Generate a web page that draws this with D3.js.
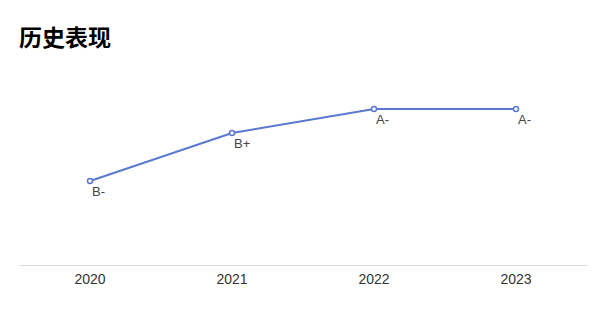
<!DOCTYPE html>
<meta charset="utf-8">
<script src="https://d3js.org/d3.v7.min.js"></script>
<style>
  body { margin: 0; background: #fff; }
</style>
<div id="chart"></div>
<script>
    // data
    var years = ["2020", "2021", "2022", "2023"];
    var grades = ["B-", "B+", "A-", "A-"];
    // grade ladder: C-=2 ... B-=5, B=6, B+=7, A-=8
    var scores = [5, 7, 8, 8];

    var W = 604, H = 316;
    var margin = {top: 61, right: 17, bottom: 51, left: 19};
    var width = W - margin.left - margin.right,
        height = H - margin.top - margin.bottom;

    var svg = d3.select("#chart")
      .append("svg")
        .attr("width", W)
        .attr("height", H)
        .style("font-family", "Arial, 'Liberation Sans', sans-serif");

    // title
    svg.append("text")
        .attr("x", 19)
        .attr("y", 46)
        .style("font-family", "'Noto Sans CJK SC', sans-serif")
        .style("font-size", "23px")
        .style("font-weight", "bold")
        .attr("fill", "#000")
        .text("历史表现");

    var g = svg.append("g")
        .attr("transform", "translate(" + margin.left + "," + margin.top + ")");

    var x = d3.scaleBand()
        .domain(years)
        .range([0, width]);

    var y = d3.scaleLinear()
        .domain([1.5, 10])
        .range([height, 0]);

    // x axis
    var xAxis = g.append("g")
        .attr("transform", "translate(0," + height + ")")
        .call(d3.axisBottom(x).tickSize(0).tickPadding(9));
    xAxis.select(".domain").attr("stroke", "#ddd");
    xAxis.selectAll("text")
        .attr("fill", "#333")
        .style("font-size", "14px")
        .style("font-family", "Arial, 'Liberation Sans', sans-serif");

    var pts = years.map(function (d, i) {
      return {year: d, score: scores[i], grade: grades[i]};
    });

    var line = d3.line()
        .x(function (d) { return x(d.year) + x.bandwidth() / 2; })
        .y(function (d) { return y(d.score); });

    g.append("path")
        .datum(pts)
        .attr("fill", "none")
        .attr("stroke", "#5b78d1")
        .attr("stroke-width", 2)
        .attr("d", line);

    g.selectAll("circle.pt")
        .data(pts)
        .enter()
        .append("circle")
          .attr("class", "pt")
          .attr("cx", function (d) { return x(d.year) + x.bandwidth() / 2; })
          .attr("cy", function (d) { return y(d.score); })
          .attr("r", 2.5)
          .attr("fill", "#fff")
          .attr("stroke", "#5b78d1")
          .attr("stroke-width", 1.5);

    g.selectAll("text.lbl")
        .data(pts)
        .enter()
        .append("text")
          .attr("class", "lbl")
          .attr("x", function (d) { return x(d.year) + x.bandwidth() / 2 + 2; })
          .attr("y", function (d) { return y(d.score) + 15; })
          .attr("fill", "#444")
          .style("font-size", "13px")
          .text(function (d) { return d.grade; });
</script>
